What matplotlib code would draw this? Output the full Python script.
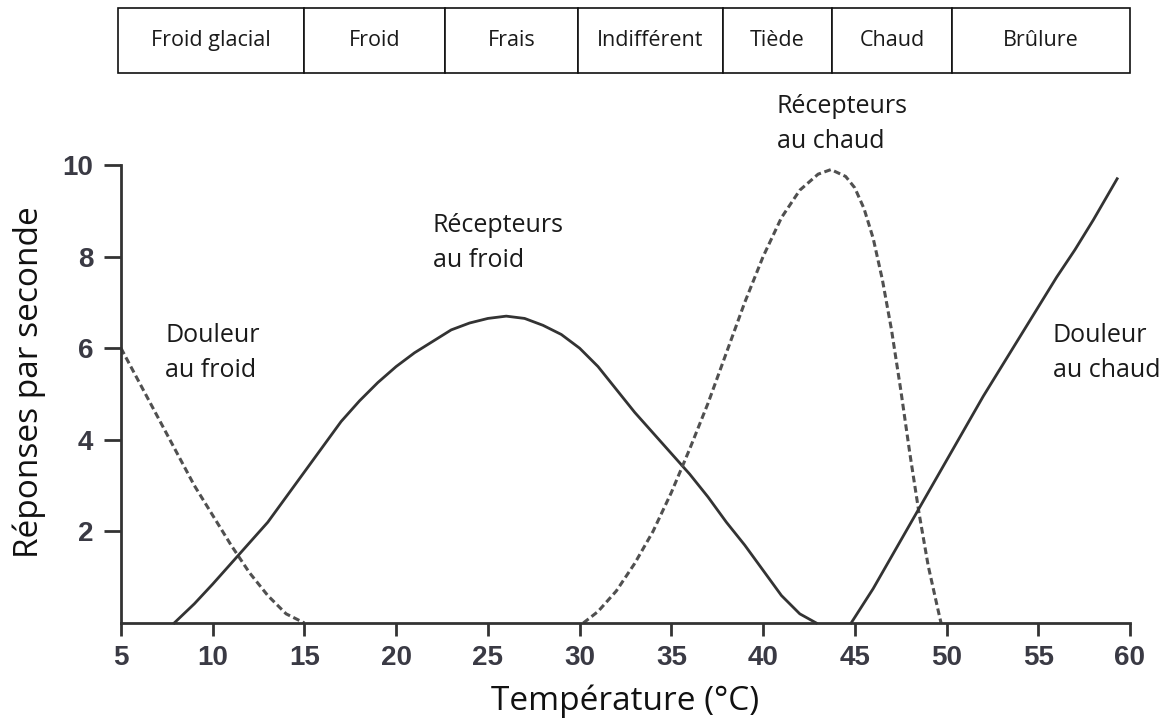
#!/usr/bin/env python3
"""
Thermoreceptor response curves (responses per second vs temperature).
"""

import matplotlib.pyplot as plt
from matplotlib.patches import Rectangle
from matplotlib.transforms import blended_transform_factory


TEXT_FONT = ["Open Sans", "DejaVu Sans"]
TICK_FONT = ["Liberation Sans", "DejaVu Sans"]
LINE_COLOR = "#333333"
DASH_COLOR = "#505050"
TICK_COLOR = "#3a3a44"

# Sensation zones shown in the strip above the chart (edges in degrees C).
zone_names = ["Froid glacial", "Froid", "Frais", "Indifférent", "Tiède", "Chaud", "Brûlure"]
zone_edges = [4.85, 15.0, 22.65, 29.9, 37.8, 43.75, 50.3, 60.0]

# Douleur au froid (dashed)
cold_pain_t = [5, 6, 7, 8, 9, 10, 11, 12, 13, 14, 15]
cold_pain_r = [6.0, 5.25, 4.5, 3.75, 3.0, 2.35, 1.7, 1.1, 0.6, 0.2, 0.0]

# Récepteurs au froid (solid)
cold_rec_t = [7.9, 9, 10, 11, 12, 13, 14, 15, 16, 17, 18, 19, 20, 21, 22, 23, 24, 25,
              26, 27, 28, 29, 30, 31, 32, 33, 34, 35, 36, 37, 38, 39, 40, 41, 42, 42.9]
cold_rec_r = [0.0, 0.42, 0.85, 1.3, 1.75, 2.2, 2.75, 3.3, 3.85, 4.4, 4.85, 5.25, 5.6,
              5.9, 6.15, 6.4, 6.55, 6.65, 6.7, 6.65, 6.5, 6.3, 6.0, 5.6, 5.1, 4.6,
              4.15, 3.7, 3.25, 2.75, 2.2, 1.7, 1.15, 0.6, 0.2, 0.0]

# Récepteurs au chaud (dashed)
warm_rec_t = [30.2, 31, 32, 33, 34, 35, 36, 37, 38, 39, 40, 41, 42, 43, 43.7, 44.5,
              45, 45.5, 46, 46.5, 47, 47.5, 48, 48.5, 49, 49.5, 49.7]
warm_rec_r = [0.0, 0.25, 0.7, 1.3, 2.0, 2.85, 3.8, 4.8, 5.9, 7.0, 8.0, 8.85, 9.45,
              9.8, 9.9, 9.75, 9.5, 9.05, 8.4, 7.5, 6.4, 5.1, 3.7, 2.4, 1.25, 0.35, 0.0]

# Douleur au chaud (solid)
heat_pain_t = [44.8, 46, 47, 48, 49, 50, 51, 52, 53, 54, 55, 56, 57, 58, 59.3]
heat_pain_r = [0.0, 0.75, 1.45, 2.15, 2.85, 3.55, 4.25, 4.95, 5.6, 6.25, 6.9, 7.55,
               8.15, 8.8, 9.7]

x_ticks = [5, 10, 15, 20, 25, 30, 35, 40, 45, 50, 55, 60]
y_ticks = [2, 4, 6, 8, 10]

# (first line, second line, x, baseline of first line)
annotations = [
    ("Douleur", "au froid", 7.4, 6.14),
    ("Récepteurs", "au froid", 22.0, 8.54),
    ("Récepteurs", "au chaud", 40.75, 11.14),
    ("Douleur", "au chaud", 55.8, 6.14),
]


def draw_zone_strip(fig, ax):
    trans = blended_transform_factory(ax.transData, fig.transFigure)
    bottom, top = 1 - 73 / 722, 1 - 8 / 722
    for name, left, right in zip(zone_names, zone_edges[:-1], zone_edges[1:]):
        ax.add_patch(
            Rectangle(
                (left, bottom),
                right - left,
                top - bottom,
                transform=trans,
                facecolor="white",
                edgecolor="#111111",
                linewidth=1.2,
                clip_on=False,
            )
        )
        ax.text(
            (left + right) / 2,
            (bottom + top) / 2,
            name,
            transform=trans,
            ha="center",
            va="center",
            fontsize=15.5,
            family=TEXT_FONT,
            color="#1a1a1a",
        )


def main():
    fig = plt.figure(figsize=(11.68, 7.22), dpi=100)
    ax = fig.add_axes([121 / 1168, 1 - 623 / 722, 1009 / 1168, 458 / 722])

    ax.plot(cold_pain_t, cold_pain_r, color=DASH_COLOR, lw=2.2,
            linestyle=(0, (2.2, 1.2)), clip_on=False)
    ax.plot(cold_rec_t, cold_rec_r, color=LINE_COLOR, lw=2.0, clip_on=False)
    ax.plot(warm_rec_t, warm_rec_r, color=DASH_COLOR, lw=2.2,
            linestyle=(0, (2.2, 1.2)), clip_on=False)
    ax.plot(heat_pain_t, heat_pain_r, color=LINE_COLOR, lw=2.0, clip_on=False)

    for first, second, x, y in annotations:
        ax.text(x, y, first, fontsize=18, family=TEXT_FONT, color="#1a1a1a", va="baseline")
        ax.text(x, y - 0.77, second, fontsize=18, family=TEXT_FONT, color="#1a1a1a", va="baseline")

    ax.set_xlim(5, 60)
    ax.set_ylim(0, 10)
    for side in ("top", "right"):
        ax.spines[side].set_visible(False)
    for side in ("left", "bottom"):
        ax.spines[side].set_color(LINE_COLOR)
        ax.spines[side].set_linewidth(2.0)

    ax.set_xticks(x_ticks)
    ax.set_yticks(y_ticks)
    ax.tick_params(axis="x", length=9.5, width=2.0, color=LINE_COLOR, pad=6)
    ax.tick_params(axis="y", length=12, width=2.0, color=LINE_COLOR, pad=8)
    for label in ax.get_xticklabels() + ax.get_yticklabels():
        label.set_family(TICK_FONT)
        label.set_fontweight("bold")
        label.set_fontsize(20)
        label.set_color(TICK_COLOR)

    ax.set_xlabel("Température (°C)", fontsize=24, family=TEXT_FONT, color="#111111", va="top")
    ax.xaxis.set_label_coords(0.5, -0.135)
    ax.set_ylabel("Réponses par seconde", fontsize=24, family=TEXT_FONT, color="#111111")
    ax.yaxis.set_label_coords(-0.074, 0.526)

    draw_zone_strip(fig, ax)

    fig.savefig("out.png", dpi=100)
    plt.close(fig)


if __name__ == "__main__":
    main()
